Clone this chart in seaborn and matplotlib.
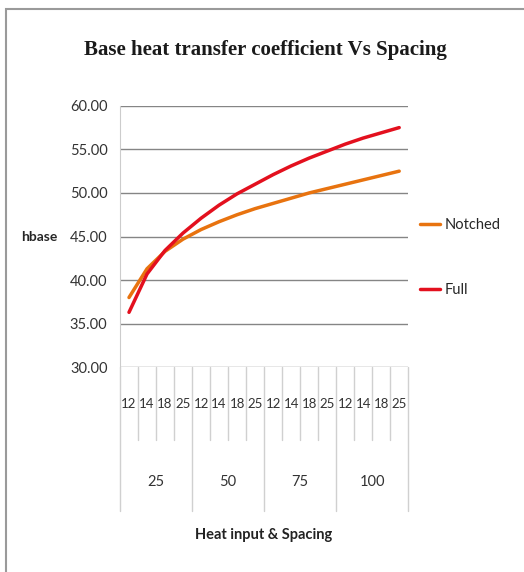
import matplotlib
matplotlib.use("Agg")
import matplotlib.pyplot as plt
import matplotlib.transforms as mtransforms
from matplotlib.patches import Rectangle
import seaborn as sns
import pandas as pd

heat_inputs = ["25", "50", "75", "100"]
spacings = ["12", "14", "18", "25"]
notched = [38.0, 41.3, 43.3, 44.7, 45.8, 46.7, 47.5, 48.2,
           48.8, 49.4, 50.0, 50.5, 51.0, 51.5, 52.0, 52.5]
full = [36.3, 40.7, 43.4, 45.4, 47.1, 48.6, 49.9, 51.0,
        52.1, 53.1, 54.0, 54.8, 55.6, 56.3, 56.9, 57.5]

n = len(notched)
df = pd.DataFrame({
    "idx": list(range(n)) * 2,
    "hbase": notched + full,
    "series": ["Notched"] * n + ["Full"] * n,
})

sns.set_style("white")
plt.rcParams["font.family"] = ["Lato", "DejaVu Sans"]

fig = plt.figure(figsize=(5.24, 5.72), dpi=100)
ax = fig.add_axes([0.229, 0.358, 0.55, 0.457])

sns.lineplot(data=df, x="idx", y="hbase", hue="series",
             palette={"Notched": "#E8730F", "Full": "#E3101E"},
             linewidth=2.5, ax=ax)

ax.set_xlim(-0.5, n - 0.5)
ax.set_ylim(30, 60)
ax.set_yticks([30, 35, 40, 45, 50, 55, 60])
ax.set_yticklabels([f"{v:.2f}" for v in range(30, 61, 5)], fontsize=10.5, color="#333333")
ax.yaxis.grid(True, color="#858585", linewidth=1)
ax.set_axisbelow(True)
ax.tick_params(axis="y", length=0, pad=9)
ax.set_xticks([])
ax.set_xlabel("")
ax.set_ylabel("hbase", rotation=0, fontsize=10, fontweight="bold", labelpad=22, va="center")
for s in ["top", "right", "bottom"]:
    ax.spines[s].set_visible(False)
ax.spines["left"].set_color("#cccccc")

# multi-level category axis
trans = mtransforms.blended_transform_factory(ax.transData, ax.transAxes)
for i in range(n):
    ax.text(i, -0.14, spacings[i % 4], transform=trans, ha="center", va="center",
            fontsize=9.5, color="#333333")
for i in range(n + 1):
    x = i - 0.5
    bottom = -0.55 if i % 4 == 0 else -0.28
    ax.plot([x, x], [0, bottom], transform=trans, color="#d0d0d0",
            linewidth=1, clip_on=False)
for g, lab in enumerate(heat_inputs):
    ax.text(g * 4 + 1.5, -0.44, lab, transform=trans, ha="center", va="center",
            fontsize=10.5, color="#333333")
ax.text(0.5, -0.64, "Heat input & Spacing", transform=ax.transAxes, ha="center",
        va="center", fontsize=10.5, fontweight="bold", color="#222222")

ax.legend(title=None, loc="center left", bbox_to_anchor=(0.995, 0.418), frameon=False,
          labelspacing=3.5, handlelength=1.4, handletextpad=0.3, fontsize=10.5)

fig.text(0.506, 0.912, "Base heat transfer coefficient Vs Spacing",
         ha="center", va="center", fontsize=15, fontweight="bold",
         family="Liberation Serif", color="#1a1a1a")

fig.patches.append(Rectangle((0.011, -0.01), 1.0, 0.995, transform=fig.transFigure,
                             fill=False, edgecolor="#9a9a9a", linewidth=1.5))

fig.savefig("out.png", dpi=100)
